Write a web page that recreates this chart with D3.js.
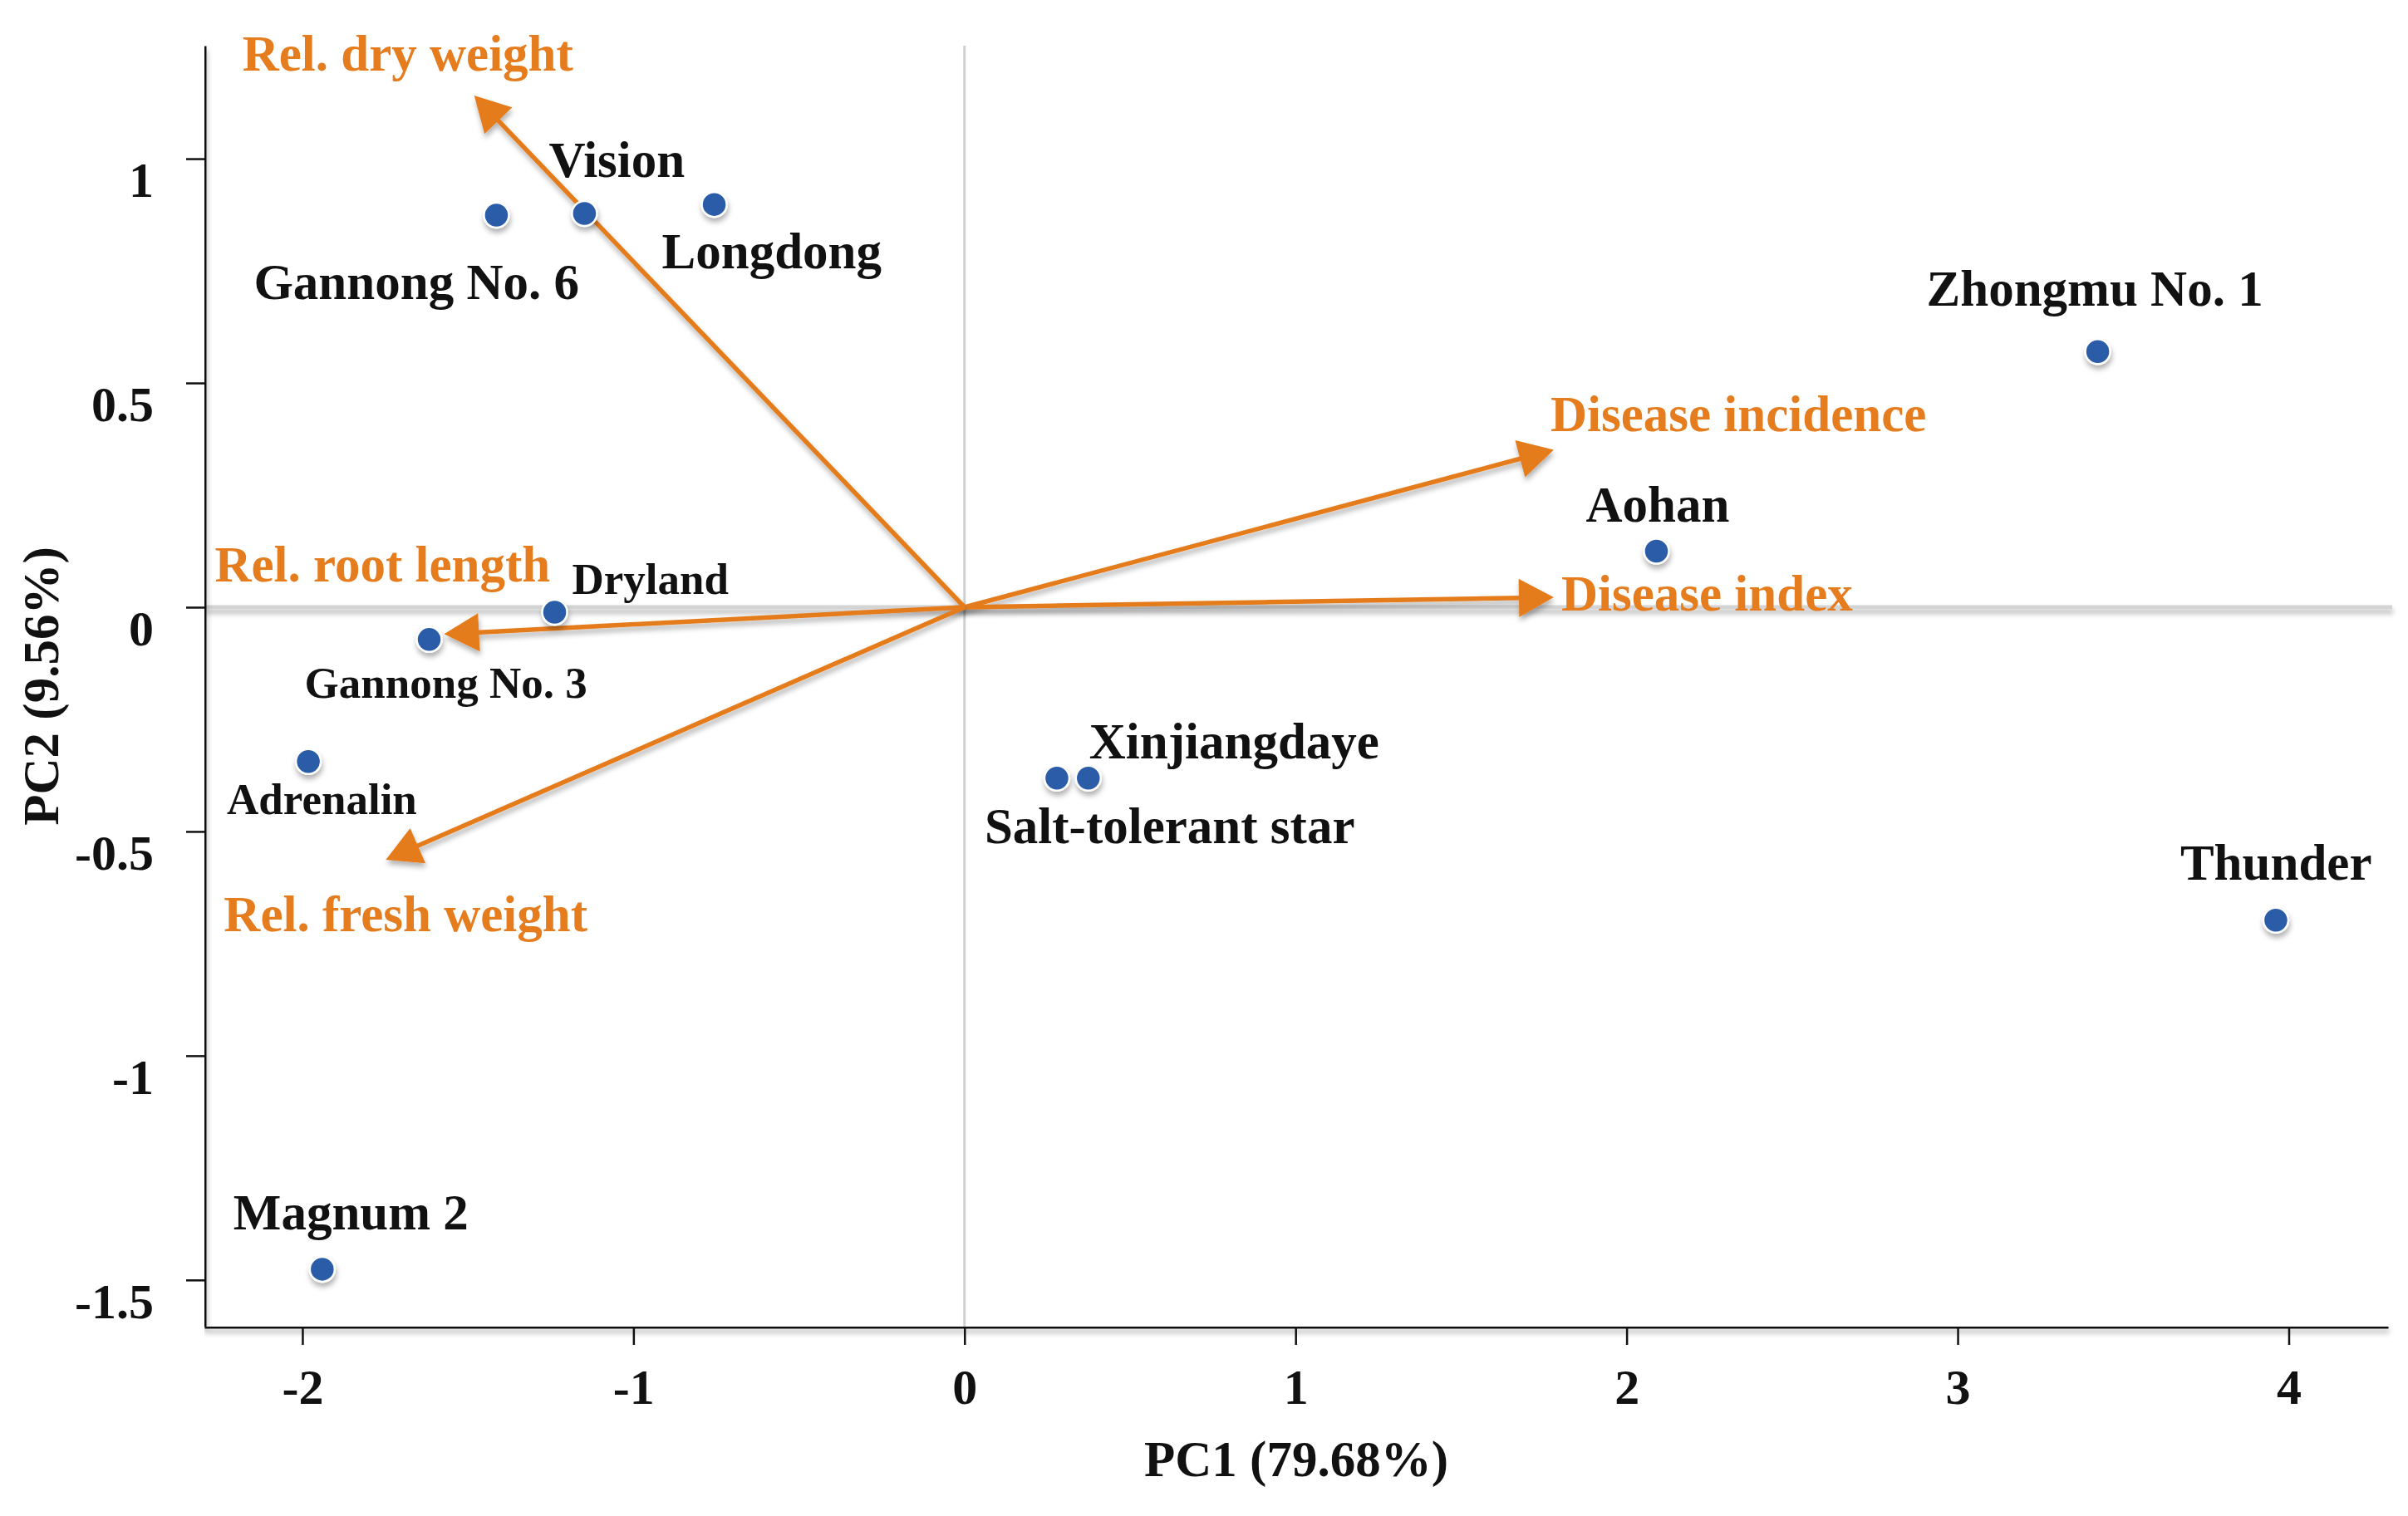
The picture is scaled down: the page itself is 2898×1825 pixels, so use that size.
<!DOCTYPE html>
<html>
<head>
<meta charset="utf-8">
<script src="https://cdn.jsdelivr.net/npm/d3@7"></script>
<style>
body { margin: 0; background: #fff; }
text { font-family: "Liberation Serif", "Times New Roman", serif; font-weight: bold; }
</style>
</head>
<body>
<svg id="chart" width="2898" height="1825"></svg>
<script>
// cultivar scores on PC1 / PC2
var cultivars = ["Gannong No. 6", "Vision", "Longdong", "Zhongmu No. 1", "Aohan", "Dryland",
    "Gannong No. 3", "Adrenalin", "Xinjiangdaye", "Salt-tolerant star", "Thunder", "Magnum 2"];
var pc1 = [-1.414, -1.148, -0.756, 3.423, 2.090, -1.238, -1.617, -1.982, 0.374, 0.279, 3.961, -1.940];
var pc2 = [0.874, 0.878, 0.898, 0.570, 0.125, -0.011, -0.072, -0.344, -0.381, -0.381, -0.698, -1.476];

// trait loadings (arrow tips)
var traits = ["Rel. dry weight", "Disease incidence", "Disease index", "Rel. root length", "Rel. fresh weight"];
var load1 = [-1.481, 1.780, 1.780, -1.572, -1.748];
var load2 = [1.141, 0.351, 0.022, -0.060, -0.563];

var xTicks = [-2, -1, 0, 1, 2, 3, 4];
var yTicks = [-1.5, -1, -0.5, 0, 0.5, 1];

var xTitle = "PC1 (79.68%)";
var yTitle = "PC2 (9.56%)";

// label placement, pixels from the mark (left edge, baseline)
var pointLabelOffset = [[-292, 101], [-43, -44], [-63, 77], [-206, -55], [-85, -35], [21, -22],
    [-150, 70], [-98, 63], [1, -24], [-87, 78], [-115, -49], [-107, -48]];
var smallLabels = ["Dryland", "Gannong No. 3", "Adrenalin"];
var traitLabelOffset = [[-279, -30], [-4, -22], [9, 16], [-276, -63], [-195, 86]];

var orange = "#e57c1e";
var blue = "#2a5ca8";

var margin = {top: 55, right: 24, bottom: 228, left: 246};
var width = 2898 - margin.left - margin.right;
var height = 1825 - margin.top - margin.bottom;

var svg = d3.select("#chart");

var defs = svg.append("defs");
defs.append("filter")
    .attr("id", "shadow")
    .attr("filterUnits", "userSpaceOnUse")
    .attr("x", 0).attr("y", 0).attr("width", 2898).attr("height", 1825)
    .append("feDropShadow")
    .attr("dx", 1).attr("dy", 5).attr("stdDeviation", 3)
    .attr("flood-color", "#000").attr("flood-opacity", 0.3);

var g = svg.append("g").attr("transform", "translate(" + margin.left + "," + margin.top + ")");

var x = d3.scaleLinear().domain([-2.296, 4.30]).range([0, width]);
var y = d3.scaleLinear().domain([-1.604, 1.252]).range([height, 0]);

// zero lines
g.append("line")
    .attr("x1", x(0)).attr("x2", x(0))
    .attr("y1", 0).attr("y2", height)
    .attr("stroke", "#cfcfcf").attr("stroke-width", 3);

g.append("line")
    .attr("x1", 0).attr("x2", width + 5)
    .attr("y1", y(0)).attr("y2", y(0))
    .attr("stroke", "#d4d4d4").attr("stroke-width", 5)
    .attr("filter", "url(#shadow)");

// axes
var xAxis = g.append("g")
    .attr("transform", "translate(0," + height + ")")
    .call(d3.axisBottom(x).tickValues(xTicks).tickFormat(function (d) { return String(d); })
        .tickSize(22).tickSizeOuter(0).tickPadding(28));

var yAxis = g.append("g")
    .call(d3.axisLeft(y).tickValues(yTicks).tickFormat(function (d) { return String(d); })
        .tickSize(22).tickSizeOuter(0).tickPadding(39));

[xAxis, yAxis].forEach(function (ax) {
    ax.select(".domain").attr("stroke", "#111").attr("stroke-width", 4).attr("filter", "url(#shadow)");
    ax.selectAll(".tick line").attr("stroke", "#111").attr("stroke-width", 2.5);
    ax.selectAll(".tick text")
        .attr("fill", "#111")
        .style("font-size", "60px")
        .style("font-family", "'Liberation Serif', 'Times New Roman', serif")
        .style("font-weight", "bold");
});
yAxis.selectAll(".tick text").attr("y", 26);

// axis titles
g.append("text")
    .attr("x", width / 2).attr("y", height + 180)
    .attr("text-anchor", "middle")
    .attr("fill", "#111")
    .style("font-size", "61px")
    .text(xTitle);

g.append("text")
    .attr("transform", "translate(" + (70 - margin.left) + "," + (height / 2) + ") rotate(-90)")
    .attr("text-anchor", "middle")
    .attr("fill", "#111")
    .style("font-size", "61px")
    .text(yTitle);

// trait arrows
var headLen = 42, headHalf = 23;
var ox = x(0), oy = y(0);
traits.forEach(function (t, i) {
    var tx = x(load1[i]), ty = y(load2[i]);
    var dx = tx - ox, dy = ty - oy;
    var len = Math.sqrt(dx * dx + dy * dy);
    var ux = dx / len, uy = dy / len;
    var bx = tx - ux * headLen, by = ty - uy * headLen;
    var arrow = g.append("g").attr("filter", "url(#shadow)");
    arrow.append("line")
        .attr("x1", ox).attr("y1", oy)
        .attr("x2", bx + ux * 4).attr("y2", by + uy * 4)
        .attr("stroke", orange).attr("stroke-width", 5.5);
    arrow.append("polygon")
        .attr("points", [[tx, ty], [bx - uy * headHalf, by + ux * headHalf], [bx + uy * headHalf, by - ux * headHalf]].join(" "))
        .attr("fill", orange);
    g.append("text")
        .attr("x", tx + traitLabelOffset[i][0])
        .attr("y", ty + traitLabelOffset[i][1])
        .attr("fill", orange)
        .style("font-size", "61px")
        .text(t);
});

// cultivar points
cultivars.forEach(function (c, i) {
    var px = x(pc1[i]), py = y(pc2[i]);
    g.append("circle")
        .attr("cx", px).attr("cy", py).attr("r", 15)
        .attr("fill", blue)
        .attr("stroke", "#fff").attr("stroke-width", 2.5)
        .attr("filter", "url(#shadow)");
    g.append("text")
        .attr("x", px + pointLabelOffset[i][0])
        .attr("y", py + pointLabelOffset[i][1])
        .attr("fill", "#111")
        .style("font-size", smallLabels.indexOf(c) >= 0 ? "53px" : "61px")
        .text(c);
});
</script>
</body>
</html>
